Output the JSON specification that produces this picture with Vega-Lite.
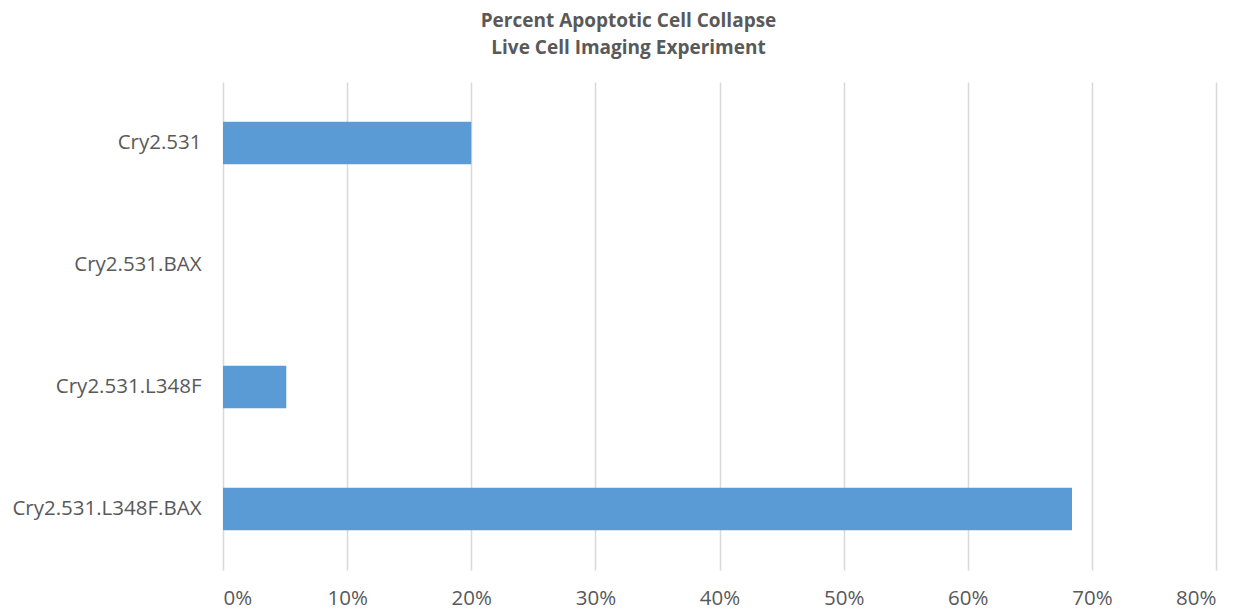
{
  "$schema": "https://vega.github.io/schema/vega-lite/v6.json",
  "autosize": {"type": "none"},
  "width": 993,
  "height": 488,
  "padding": {"left": 223, "top": 82, "right": 40, "bottom": 43},
  "background": "white",
  "title": {
    "text": ["Percent Apoptotic Cell Collapse", "Live Cell Imaging Experiment"],
    "anchor": "middle",
    "frame": "group",
    "dx": -91,
    "font": "Open Sans",
    "fontSize": 19,
    "fontWeight": "bold",
    "color": "#595959",
    "lineHeight": 27,
    "offset": 24
  },
  "data": {
    "values": [
      {"construct": "Cry2.531", "collapse": 0.20},
      {"construct": "Cry2.531.BAX", "collapse": 0},
      {"construct": "Cry2.531.L348F", "collapse": 0.051},
      {"construct": "Cry2.531.L348F.BAX", "collapse": 0.684}
    ]
  },
  "mark": {"type": "bar", "color": "#5B9BD5"},
  "encoding": {
    "y": {
      "field": "construct",
      "type": "nominal",
      "sort": null,
      "scale": {"paddingInner": 0.65, "paddingOuter": 0.325},
      "axis": {
        "title": null,
        "domain": false,
        "ticks": false,
        "grid": false,
        "labelFont": "Open Sans",
        "labelFontSize": 20.5,
        "labelColor": "#595959",
        "labelPadding": 22,
        "labelLimit": 0
      }
    },
    "x": {
      "field": "collapse",
      "type": "quantitative",
      "scale": {"domain": [0, 0.8], "nice": false},
      "axis": {
        "title": null,
        "format": ".0%",
        "values": [0, 0.1, 0.2, 0.3, 0.4, 0.5, 0.6, 0.7, 0.8],
        "domain": false,
        "ticks": false,
        "grid": true,
        "gridColor": "#D9D9D9",
        "gridWidth": 1.5,
        "labelFont": "Open Sans",
        "labelFontSize": 20.5,
        "labelColor": "#595959",
        "labelPadding": 18
      }
    }
  },
  "config": {"view": {"stroke": null}}
}
